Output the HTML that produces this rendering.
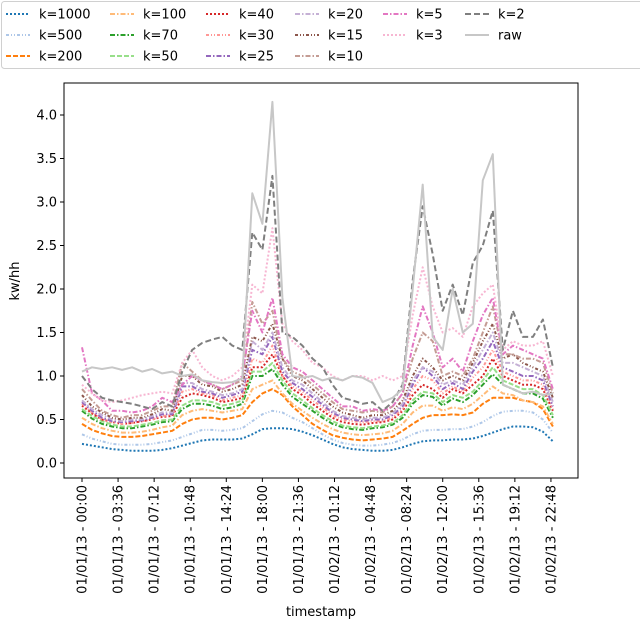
<!DOCTYPE html>
<html><head><meta charset="utf-8">
<style>
body{margin:0;background:#fff;}
svg{display:block;font-family:"DejaVu Sans","Liberation Sans",sans-serif;}
</style></head>
<body>
<svg id="chart" width="640" height="621" viewBox="0 0 640 621">
<g id="plot"></g>
<g id="axes"></g>
<g id="legend"></g>
</svg>
<script>
const hours = [0,1,2,3,4,5,6,7,8,9,10,11,12,13,14,15,16,17,18,19,20,21,22,23,24,25,26,27,28,29,30,31,32,33,34,35,36,37,38,39,40,41,42,43,44,45,46,47];
const seriesNames = ["k=1000","k=500","k=200","k=100","k=70","k=50","k=40","k=30","k=25","k=20","k=15","k=10","k=5","k=3","k=2","raw"];
const k1000 = [0.22,0.20,0.18,0.16,0.15,0.14,0.14,0.14,0.15,0.17,0.20,0.23,0.26,0.27,0.27,0.27,0.28,0.33,0.39,0.40,0.40,0.39,0.36,0.32,0.27,0.22,0.18,0.16,0.15,0.14,0.14,0.15,0.18,0.22,0.25,0.26,0.26,0.27,0.27,0.28,0.31,0.35,0.39,0.42,0.42,0.41,0.36,0.25];
const k500 = [0.33,0.28,0.25,0.22,0.21,0.21,0.21,0.22,0.24,0.26,0.3,0.34,0.38,0.38,0.37,0.38,0.4,0.48,0.56,0.6,0.58,0.52,0.47,0.4,0.33,0.27,0.23,0.21,0.2,0.2,0.21,0.23,0.27,0.33,0.37,0.38,0.38,0.39,0.39,0.42,0.47,0.54,0.59,0.6,0.6,0.58,0.5,0.35];
const k200 = [0.45,0.38,0.34,0.31,0.3,0.3,0.31,0.33,0.35,0.37,0.45,0.5,0.52,0.52,0.5,0.52,0.55,0.7,0.8,0.85,0.78,0.65,0.55,0.45,0.38,0.32,0.29,0.27,0.26,0.27,0.28,0.3,0.37,0.45,0.52,0.55,0.55,0.56,0.55,0.58,0.68,0.75,0.75,0.75,0.72,0.7,0.62,0.42];
const k100 = [0.52,0.45,0.4,0.37,0.35,0.35,0.36,0.38,0.41,0.43,0.55,0.6,0.62,0.6,0.58,0.6,0.62,0.85,0.9,0.95,0.8,0.68,0.6,0.52,0.45,0.39,0.35,0.33,0.32,0.33,0.34,0.37,0.45,0.58,0.66,0.66,0.6,0.64,0.62,0.68,0.78,0.88,0.8,0.78,0.72,0.7,0.65,0.45];
const k70 = [0.6,0.51,0.45,0.42,0.4,0.4,0.42,0.44,0.47,0.48,0.62,0.68,0.68,0.66,0.62,0.64,0.68,1.0,1.0,1.08,0.9,0.76,0.68,0.6,0.52,0.45,0.41,0.39,0.38,0.4,0.41,0.44,0.52,0.68,0.78,0.76,0.66,0.74,0.7,0.78,0.9,1.02,0.9,0.85,0.8,0.8,0.74,0.52];
const k50 = [0.62,0.54,0.48,0.44,0.42,0.42,0.44,0.46,0.49,0.5,0.66,0.72,0.72,0.7,0.66,0.68,0.72,1.05,1.05,1.15,0.95,0.8,0.72,0.63,0.55,0.48,0.43,0.41,0.4,0.42,0.43,0.46,0.55,0.72,0.82,0.8,0.7,0.78,0.75,0.82,0.95,1.1,0.95,0.9,0.85,0.85,0.78,0.55];
const k40 = [0.66,0.57,0.5,0.47,0.45,0.46,0.48,0.5,0.53,0.54,0.75,0.8,0.78,0.75,0.7,0.72,0.75,1.1,1.1,1.25,1.0,0.85,0.78,0.68,0.6,0.52,0.47,0.45,0.44,0.46,0.47,0.5,0.6,0.78,0.9,0.85,0.75,0.85,0.8,0.9,1.0,1.2,1.0,0.95,0.9,0.9,0.85,0.6];
const k30 = [0.68,0.58,0.5,0.47,0.45,0.46,0.48,0.5,0.54,0.55,0.82,0.85,0.8,0.78,0.72,0.75,0.78,1.2,1.15,1.35,1.0,0.88,0.82,0.72,0.64,0.55,0.5,0.48,0.47,0.48,0.48,0.52,0.62,0.85,1.0,0.95,0.8,0.88,0.82,0.98,1.1,1.3,1.05,1.0,0.95,0.95,0.9,0.62];
const k25 = [0.7,0.6,0.52,0.48,0.47,0.48,0.49,0.52,0.56,0.56,0.88,0.88,0.82,0.8,0.75,0.78,0.82,1.3,1.25,1.45,1.05,0.92,0.85,0.76,0.67,0.58,0.52,0.5,0.48,0.5,0.5,0.55,0.65,0.9,1.1,1.0,0.85,0.92,0.85,1.05,1.2,1.4,1.1,1.05,1.0,1.0,0.95,0.65];
const k20 = [0.72,0.62,0.55,0.5,0.48,0.5,0.5,0.54,0.58,0.58,0.92,0.92,0.85,0.82,0.78,0.8,0.85,1.4,1.3,1.5,1.1,0.95,0.9,0.8,0.7,0.6,0.54,0.52,0.5,0.52,0.52,0.57,0.68,0.95,1.1,1.05,0.9,0.95,0.9,1.1,1.3,1.5,1.15,1.15,1.1,1.05,1.0,0.7];
const k15 = [0.78,0.65,0.58,0.52,0.5,0.52,0.52,0.56,0.62,0.6,1.0,1.0,0.9,0.88,0.82,0.85,0.9,1.45,1.4,1.6,1.2,1.0,0.95,0.85,0.75,0.65,0.58,0.55,0.52,0.55,0.55,0.6,0.72,1.0,1.2,1.1,0.95,1.0,0.95,1.15,1.4,1.6,1.2,1.25,1.15,1.1,1.05,0.75];
const k10 = [0.85,0.72,0.6,0.55,0.52,0.55,0.55,0.6,0.65,0.65,1.15,1.05,0.95,0.9,0.85,0.9,0.95,1.85,1.6,1.75,1.2,1.05,1.0,0.9,0.8,0.7,0.62,0.6,0.58,0.6,0.58,0.65,0.8,1.2,1.5,1.4,1.0,1.05,1.0,1.2,1.5,1.8,1.25,1.25,1.2,1.2,1.15,0.8];
const k5 = [1.33,0.8,0.72,0.6,0.6,0.58,0.6,0.65,0.75,0.7,0.9,1.0,0.95,0.9,0.85,0.9,1.0,1.75,1.5,1.9,1.25,1.1,1.05,0.95,0.85,0.75,0.65,0.65,0.6,0.62,0.6,0.65,0.8,1.35,1.8,1.5,1.1,1.2,1.05,1.4,1.7,1.9,1.25,1.35,1.3,1.25,1.2,0.85];
const k3 = [0.9,0.8,0.72,0.7,0.72,0.75,0.78,0.8,0.82,0.8,1.15,1.3,1.1,1.0,0.95,1.0,1.1,2.05,1.95,2.7,1.6,1.4,1.3,1.15,1.1,1.0,0.95,1.0,1.0,0.95,1.0,0.95,1.0,1.7,2.25,1.8,1.5,1.55,1.45,1.8,1.95,2.05,1.3,1.4,1.35,1.35,1.4,1.0];
const k2 = [1.0,0.85,0.75,0.72,0.7,0.68,0.65,0.62,0.7,0.65,1.05,1.3,1.38,1.42,1.45,1.35,1.3,2.65,2.45,3.3,1.5,1.45,1.35,1.2,1.1,0.9,0.75,0.72,0.68,0.7,0.6,0.7,0.9,2.1,2.95,2.4,1.75,2.05,1.7,2.3,2.5,2.9,1.3,1.75,1.45,1.45,1.65,1.1];
const raw = [1.05,1.10,1.08,1.10,1.07,1.10,1.05,1.08,1.03,1.05,1.00,1.02,0.95,0.93,0.92,0.93,0.97,3.1,2.75,4.15,1.9,1.0,0.98,1.0,0.95,0.98,0.95,1.0,0.98,0.92,0.7,0.75,0.85,2.0,3.2,1.45,1.3,2.0,1.5,1.6,3.25,3.55,0.9,0.85,0.8,0.82,0.78,0.8];
const yTicks = [0.0,0.5,1.0,1.5,2.0,2.5,3.0,3.5,4.0];
const xTickHours = [0,3.6,7.2,10.8,14.4,18,21.6,25.2,28.8,32.4,36,39.6,43.2,46.8];
const xTickLabels = ["01/01/13 - 00:00","01/01/13 - 03:36","01/01/13 - 07:12","01/01/13 - 10:48","01/01/13 - 14:24","01/01/13 - 18:00","01/01/13 - 21:36","01/02/13 - 01:12","01/02/13 - 04:48","01/02/13 - 08:24","01/02/13 - 12:00","01/02/13 - 15:36","01/02/13 - 19:12","01/02/13 - 22:48"];

const seriesData = [k1000,k500,k200,k100,k70,k50,k40,k30,k25,k20,k15,k10,k5,k3,k2,raw];
const colors = ["#1f77b4","#aec7e8","#ff7f0e","#ffbb78","#2ca02c","#98df8a","#d62728","#ff9896","#9467bd","#c5b0d5","#8c564b","#c49c94","#e377c2","#f7b6d2","#7f7f7f","#c7c7c7"];
const dashes = ["2,2","3,2,1,2,1,2","5,2","5,2,1.5,2","5,2,1.5,2","5,2","2,2","3,2,1,2,1,2","5,2,1.5,2","5,2,1.5,2","3,2,1,2,1,2","5,2,1.5,2","5,2,1.5,2","2,2","6,3",""];

const L=64,R=578,T=83,B=478;
const x = h => 82 + h*10.02;
const y = v => 463 - v*87;
const NS="http://www.w3.org/2000/svg";
function mk(tag, attrs, parent){const e=document.createElementNS(NS,tag);for(const k in attrs)e.setAttribute(k,attrs[k]);parent.appendChild(e);return e;}

const plot=document.getElementById('plot');
seriesData.forEach((arr,si)=>{
  const d=arr.map((v,i)=>(i?'L':'M')+x(hours[i]).toFixed(1)+','+y(v).toFixed(1)).join(' ');
  const p=mk('path',{d:d,fill:'none',stroke:colors[si],'stroke-width':2,'stroke-dasharray':dashes[si],'stroke-linejoin':'round'},plot);
  
  
});

const axes=document.getElementById('axes');
const frame=mk('rect',{x:L,y:T,width:R-L,height:B-T,fill:'none',stroke:'#000','stroke-width':1},axes);


yTicks.forEach(v=>{
  mk('line',{x1:L-4,x2:L,y1:y(v),y2:y(v),stroke:'#000'},axes);
  const t=mk('text',{x:L-7,y:y(v)+4.5,'text-anchor':'end','font-size':13,fill:'#000'},axes);
  t.textContent=v.toFixed(1);
  
  
});
xTickHours.forEach((h,i)=>{
  mk('line',{x1:x(h),x2:x(h),y1:B,y2:B+4,stroke:'#000'},axes);
  const t=mk('text',{x:0,y:0,'text-anchor':'end','font-size':13,fill:'#000',transform:`translate(${x(h)+4.5},${B+7}) rotate(-90)`},axes);
  t.textContent=xTickLabels[i];
  
  
});
const yt=mk('text',{x:0,y:0,'text-anchor':'middle','font-size':13,transform:'translate(19,281) rotate(-90)'},axes);
yt.textContent='kw/hh';


const xt=mk('text',{x:321,y:616,'text-anchor':'middle','font-size':13},axes);
xt.textContent='timestamp';



const leg=document.getElementById('legend');
const lb=mk('rect',{x:1.5,y:1.5,width:650,height:67,rx:3,fill:'#fff',stroke:'#d0d0d0'},leg);


const colX=[6,110,206,295,383,465];
const order=[[0,1,2],[3,4,5],[6,7,8],[9,10,11],[12,13],[14,15]];
order.forEach((col,ci)=>col.forEach((si,ri)=>{
  const yy=14+ri*21;
  const g=mk('g',{},leg);
  
  
  mk('line',{x1:colX[ci],x2:colX[ci]+24,y1:yy,y2:yy,stroke:colors[si],'stroke-width':2,'stroke-dasharray':dashes[si]},g);
  const t=mk('text',{x:colX[ci]+33,y:yy+4.5,'font-size':13},g);
  t.textContent=seriesNames[si];
}));
</script>
</body></html>
